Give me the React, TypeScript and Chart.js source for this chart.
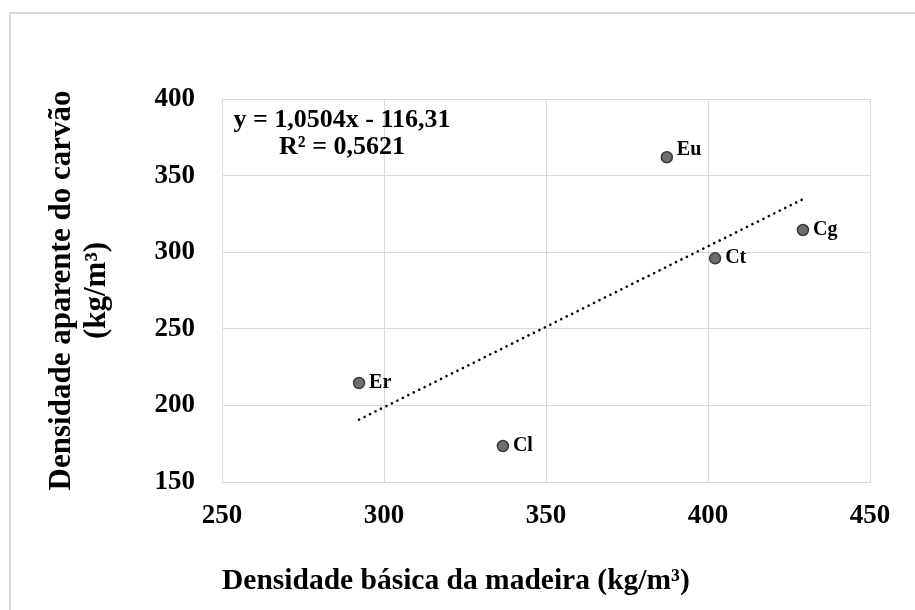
import React, { useEffect, useRef } from "react";
import { Chart, registerables } from "chart.js";

Chart.register(...registerables);

// ---- Data ----
const pointLabels = ["Eu", "Cg", "Ct", "Er", "Cl"];
const densidadeBasica = [387.3, 429.3, 402.2, 292.3, 336.7];
const densidadeAparente = [362, 314.5, 296, 214.6, 173.5];
const xTickValues = [250, 300, 350, 400, 450];
const yTickValues = [150, 200, 250, 300, 350, 400];
const trendSlope = 1.0504;
const trendIntercept = -116.31;
const equationLines = ["y = 1,0504x - 116,31", "R² = 0,5621"];
const xTitle = "Densidade básica da madeira (kg/m³)";
const yTitle = ["Densidade aparente do carvão", "(kg/m³)"];

const FONT = "'Liberation Serif', 'Times New Roman', serif";
const W = 915;
const H = 610;

const decorPlugin = {
  id: "decor",
  beforeDraw(chart: any) {
    const ctx = chart.ctx;
    ctx.save();
    ctx.strokeStyle = "#d9d9d9";
    ctx.lineWidth = 2;
    ctx.beginPath();
    ctx.moveTo(10, H);
    ctx.lineTo(10, 13);
    ctx.lineTo(W, 13);
    ctx.stroke();
    ctx.restore();
  },
  afterDatasetsDraw(chart: any) {
    const ctx = chart.ctx;
    const area = chart.chartArea;
    ctx.save();
    ctx.fillStyle = "#000";
    // equation
    ctx.font = `bold 26px ${FONT}`;
    ctx.textAlign = "center";
    ctx.textBaseline = "middle";
    const cx = area.left + 120;
    ctx.fillText(equationLines[0], cx, area.top + 21);
    ctx.fillText(equationLines[1], cx, area.top + 48);
    // point labels
    const meta = chart.getDatasetMeta(0);
    ctx.font = `bold 20px ${FONT}`;
    ctx.textAlign = "left";
    ctx.textBaseline = "middle";
    const raised: Record<string, number> = { Eu: -7 };
    meta.data.forEach((pt: any, i: number) => {
      const name = pointLabels[i];
      ctx.fillText(name, pt.x + 10, pt.y + (raised[name] || 0));
    });
    ctx.restore();
  },
};

export default function App() {
  const ref = useRef<HTMLCanvasElement | null>(null);

  useEffect(() => {
    if (!ref.current) return;
    const pts = densidadeBasica.map((x, i) => ({ x, y: densidadeAparente[i] }));
    const minX = Math.min(...densidadeBasica);
    const maxX = Math.max(...densidadeBasica);
    const trend = [
      { x: minX, y: trendSlope * minX + trendIntercept },
      { x: maxX, y: trendSlope * maxX + trendIntercept },
    ];
    const padLeft = 40;
    const padBottom = 6;
    const chart = new Chart(ref.current, {
      type: "scatter",
      data: {
        datasets: [
          {
            data: pts,
            pointRadius: 5.5,
            pointBackgroundColor: "#6e6e6e",
            pointBorderColor: "#3a3a3a",
            pointBorderWidth: 1.5,
            showLine: false,
            order: 1,
          },
          {
            data: trend,
            type: "line",
            showLine: true,
            borderColor: "#000",
            borderWidth: 2.6,
            borderDash: [0.1, 6],
            borderCapStyle: "round",
            pointRadius: 0,
            fill: false,
            order: 2,
          } as any,
        ],
      },
      options: {
        responsive: false,
        animation: false,
        devicePixelRatio: 1,
        layout: { padding: { left: padLeft, right: 45, top: 99, bottom: padBottom } },
        plugins: { legend: { display: false }, tooltip: { enabled: false } },
        scales: {
          x: {
            type: "linear",
            min: 250,
            max: 450,
            afterBuildTicks: (s: any) => {
              s.ticks = xTickValues.map((v) => ({ value: v }));
            },
            afterFit: (s: any) => {
              s.height = H - 482 - padBottom;
            },
            grid: { color: "#d9d9d9", lineWidth: 1, drawTicks: false },
            border: { color: "#d9d9d9", width: 1 },
            ticks: {
              color: "#000",
              font: { family: FONT, size: 27, weight: "bold" },
              padding: 18,
              maxRotation: 0,
            },
            title: {
              display: true,
              text: xTitle,
              align: "start",
              color: "#000",
              font: { family: FONT, size: 29.5, weight: "bold", lineHeight: 1.25 },
              padding: { top: 0, bottom: 4 },
            },
          },
          y: {
            type: "linear",
            min: 150,
            max: 400,
            afterBuildTicks: (s: any) => {
              s.ticks = yTickValues.map((v) => ({ value: v }));
            },
            afterFit: (s: any) => {
              s.width = 222 - padLeft;
            },
            grid: { color: "#d9d9d9", lineWidth: 1, drawTicks: false },
            border: { color: "#d9d9d9", width: 1 },
            ticks: {
              color: "#000",
              font: { family: FONT, size: 27, weight: "bold" },
              padding: 27,
            },
            title: {
              display: true,
              text: yTitle,
              color: "#000",
              font: { family: FONT, size: 31, weight: "bold", lineHeight: 1.13 },
              padding: { top: 4, bottom: 0 },
            },
          },
        },
      } as any,
      plugins: [decorPlugin],
    });
    return () => chart.destroy();
  }, []);

  return (
    <div style={{ position: "absolute", left: 0, top: 0, width: W, height: H, background: "#fff" }}>
      <canvas ref={ref} width={W} height={H} style={{ width: W, height: H, display: "block" }} />
    </div>
  );
}
